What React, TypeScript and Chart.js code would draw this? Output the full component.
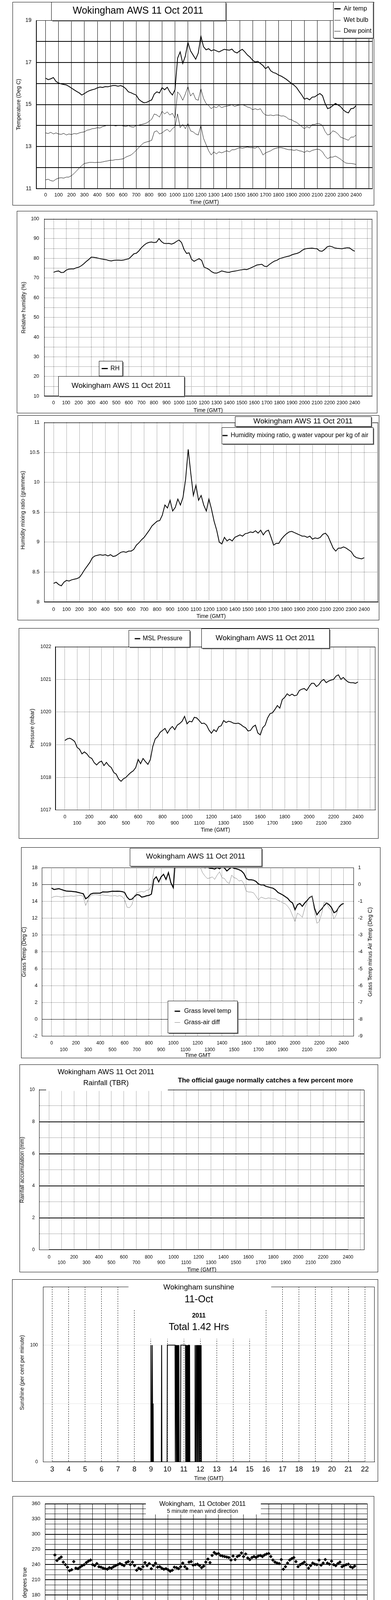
import React, { useEffect, useRef } from 'react';
import { Chart, registerables } from 'chart.js';

Chart.register(...registerables);

const FONT = "'Liberation Sans', Arial, Helvetica, sans-serif";

// ---------------- time grids & tick lists ----------------
// HHMM-style time axis (100 = 1 hour), sampled every 20 units
const T20 = Array.from({ length: 121 }, (_, i) => i * 20);
// hours, every 10 minutes
const H10 = Array.from({ length: 145 }, (_, i) => i / 6);

const HUNDREDS_2400 = [0, 100, 200, 300, 400, 500, 600, 700, 800, 900, 1000, 1100, 1200, 1300, 1400, 1500, 1600, 1700, 1800, 1900, 2000, 2100, 2200, 2300, 2400];
const HUNDREDS_2500 = [...HUNDREDS_2400, 2500];
const SUN_HOURS = [3, 4, 5, 6, 7, 8, 9, 10, 11, 12, 13, 14, 15, 16, 17, 18, 19, 20, 21, 22];
const DAY_HOURS = [0, 1, 2, 3, 4, 5, 6, 7, 8, 9, 10, 11, 12, 13, 14, 15, 16, 17, 18, 19, 20, 21, 22, 23, 24];

const TEMP_TICKS = [11, 12, 13, 14, 15, 16, 17, 18, 19];
const RH_TICKS = [10, 15, 20, 25, 30, 35, 40, 45, 50, 55, 60, 65, 70, 75, 80, 85, 90, 95, 100];
const MIX_TICKS = [8, 8.5, 9, 9.5, 10, 10.5, 11];
const PRES_TICKS = [1017, 1018, 1019, 1020, 1021, 1022];
const GRASS_TICKS = [-2, 0, 2, 4, 6, 8, 10, 12, 14, 16, 18];
const DIFF_TICKS = [-9, -8, -7, -6, -5, -4, -3, -2, -1, 0, 1];
const RAIN_TICKS = [0, 1, 2, 3, 4, 5, 6, 7, 8, 9, 10];
const SUN_TICKS = [0, 50, 100, 150];
const DIR_TICKS = [0, 10, 20, 30, 40, 50, 60, 70, 80, 90, 100, 110, 120, 130, 140, 150, 160, 170, 180, 190, 200, 210, 220, 230, 240, 250, 260, 270, 280, 290, 300, 310, 320, 330, 340, 350, 360];
const SPEED_TICKS = [0, 5, 10, 15, 20, 25, 30, 35, 40, 45, 50];

// ---------------- data ----------------
const airTemp = [
  16.25, 16.18, 16.22, 16.28, 16.1, 16.02, 15.98, 15.95, 15.93, 15.86,
  15.78, 15.7, 15.62, 15.55, 15.45, 15.52, 15.6, 15.66, 15.7, 15.73,
  15.79, 15.83, 15.81, 15.85, 15.84, 15.87, 15.9, 15.9, 15.87, 15.9,
  15.85, 15.75, 15.6, 15.56, 15.5, 15.45, 15.25, 15.15, 15.08, 15.1,
  15.16, 15.22, 15.5, 15.6, 15.55, 15.8, 15.7, 15.82, 15.6, 15.45,
  15.7, 17.2, 17.5, 16.95, 17.3, 17.95, 17.55, 17.35, 17.15, 17.45,
  18.25, 17.75, 17.6, 17.65, 17.55, 17.6, 17.55, 17.5, 17.56, 17.62,
  17.6, 17.58, 17.63, 17.5, 17.45, 17.55, 17.62, 17.5, 17.35, 17.25,
  17.1, 17.02, 17.05, 16.95, 16.85, 16.7, 16.8, 16.6, 16.52, 16.48,
  16.4, 16.35, 16.28, 16.2, 16.1, 16.0, 15.92, 15.8, 15.62, 15.45,
  15.25, 15.3, 15.22, 15.35, 15.36, 15.45, 15.52, 15.42, 15.05, 14.8,
  14.85, 14.95, 15.05, 14.98, 14.9, 14.75, 14.65, 14.6, 14.8, 14.82,
  14.95,
];
const wetBulb = [
  13.65, 13.62, 13.68, 13.6, 13.65, 13.6, 13.58, 13.63, 13.55, 13.6,
  13.57, 13.62, 13.6, 13.65, 13.68, 13.7, 13.78, 13.8, 13.85, 13.86,
  13.9, 13.88, 13.95, 13.98, 14.02, 14.0, 14.01, 13.98, 14.0, 14.01,
  13.98, 13.95, 14.0, 13.94, 13.92, 14.0, 14.02, 14.05, 14.08, 14.12,
  14.2, 14.3, 14.55, 14.5, 14.4, 14.68, 14.55, 14.65, 14.5, 14.58,
  14.35, 15.6, 15.45, 15.2, 15.5, 15.85, 15.4, 15.55, 15.25, 15.2,
  15.75, 15.3, 15.05, 14.95, 14.8, 14.9, 14.85, 14.95, 14.85, 14.9,
  14.92, 14.95, 15.0, 14.9, 14.95, 14.98, 15.0, 14.95, 14.88, 14.85,
  14.75, 14.8, 14.75, 14.8, 14.6, 14.5, 14.48, 14.5, 14.47, 14.5,
  14.5, 14.45, 14.46, 14.4, 14.3, 14.28, 14.2, 14.15, 14.05, 13.95,
  13.85, 13.95, 13.88, 14.05, 14.05, 14.1, 14.08, 14.0, 13.72, 13.55,
  13.6, 13.75, 13.7, 13.6, 13.45, 13.4, 13.35, 13.3, 13.45, 13.45,
  13.55,
];
const dewPoint = [
  11.42, 11.45, 11.38, 11.36, 11.45, 11.5, 11.52, 11.5, 11.55, 11.55,
  11.62, 11.72, 11.85, 11.98, 12.1, 12.2, 12.22, 12.25, 12.25, 12.24,
  12.25, 12.25, 12.27, 12.3, 12.32, 12.35, 12.35, 12.38, 12.38, 12.4,
  12.42, 12.5, 12.55, 12.6, 12.7, 12.82, 12.95, 13.08, 13.18, 13.22,
  13.25, 13.3, 13.7, 13.75, 13.6, 13.65, 13.75, 13.82, 13.7, 13.85,
  13.95, 14.55, 13.9, 14.05, 13.85, 14.1, 13.75, 13.7, 13.6, 13.55,
  14.0, 13.4, 13.1, 12.8, 12.6, 12.75, 12.65, 12.75, 12.7, 12.75,
  12.8, 12.75, 12.85, 12.85, 12.9, 12.95, 12.92, 12.95, 12.98, 12.95,
  12.95, 12.92, 13.0, 12.85, 12.6, 12.7, 12.75, 12.8, 12.88, 12.92,
  12.95, 12.95, 12.92, 12.88, 12.85, 12.85, 12.82, 12.85, 12.8, 12.78,
  12.72, 12.8, 12.75, 12.82, 12.85, 12.88, 12.85, 12.75, 12.55, 12.42,
  12.5, 12.5, 12.55, 12.48, 12.4, 12.3, 12.22, 12.2, 12.2, 12.18,
  12.15,
];
const relHumidity = [
  72.9, 73.4, 73.6, 72.8, 72.9, 74.0, 74.5, 74.6, 74.6, 75.2,
  75.5, 76.2, 77.2, 78.4, 79.4, 80.6, 80.5, 80.3, 80.0, 79.7,
  79.5, 79.3, 78.9, 78.7, 79.0, 79.1, 79.1, 79.0, 79.2, 79.5,
  79.8, 81.0, 82.3, 82.6, 83.8, 85.4, 86.6, 87.6, 88.1, 88.3,
  88.0, 88.2, 90.0, 88.5, 87.6, 87.5, 87.6, 87.2, 87.7, 88.6,
  89.3, 88.0, 84.5, 82.5, 82.8, 79.5, 78.5, 79.2, 79.8, 79.0,
  75.5, 75.0, 74.3, 73.2, 72.6, 72.5, 73.0, 73.6, 73.3, 73.0,
  72.9, 73.3, 73.5, 73.7, 74.0, 74.2, 74.4, 74.3, 74.8, 75.4,
  76.0, 76.6, 76.8, 77.0, 76.0, 75.8, 76.9, 77.8, 78.6, 79.0,
  79.8, 80.2, 80.6, 80.9, 81.2, 81.8, 82.2, 82.5, 83.0, 84.0,
  84.7, 85.0, 85.1, 85.2, 85.0, 84.9, 83.8, 83.6, 84.5, 85.8,
  86.2, 85.9, 85.3, 85.1, 85.0, 84.9, 85.2, 85.4, 85.3, 84.3,
  83.6,
];
const mixingRatio = [
  8.31, 8.33, 8.29, 8.27, 8.33, 8.36, 8.35, 8.37, 8.38, 8.39,
  8.41, 8.47, 8.54, 8.6, 8.66, 8.74, 8.77, 8.78, 8.79, 8.78,
  8.79, 8.77, 8.79, 8.76, 8.77, 8.8, 8.83, 8.84, 8.83, 8.85,
  8.85, 8.88, 8.95, 8.99, 9.04, 9.08, 9.14, 9.2, 9.27, 9.31,
  9.35, 9.36, 9.45, 9.62, 9.57, 9.7, 9.52, 9.58, 9.72, 9.62,
  9.75, 10.05, 10.55, 10.15, 9.78, 9.95, 9.7, 9.78, 9.62, 9.52,
  9.72, 9.55, 9.35, 9.2, 9.0, 8.97, 9.08, 9.02, 9.05, 9.02,
  9.08, 9.1, 9.12, 9.1, 9.14, 9.15, 9.17, 9.16, 9.19, 9.15,
  9.2, 9.12, 9.18, 9.2, 9.08, 8.95, 8.98, 8.98, 9.05, 9.1,
  9.14, 9.17, 9.18, 9.16, 9.14, 9.12, 9.1, 9.1, 9.08, 9.1,
  9.05, 9.07, 9.06, 9.08, 9.13, 9.15, 9.1, 9.0, 8.9, 8.85,
  8.9, 8.9, 8.92, 8.9, 8.87, 8.84, 8.77, 8.74, 8.73, 8.72,
  8.74,
];
const mslPressure = [
  1019.13, 1019.18, 1019.2, 1019.16, 1019.1, 1018.92, 1018.86, 1018.72, 1018.78, 1018.72,
  1018.62, 1018.58, 1018.45, 1018.38, 1018.46, 1018.5, 1018.36, 1018.46, 1018.36, 1018.3,
  1018.15, 1018.1, 1017.95, 1017.88, 1017.96, 1018.0, 1018.08, 1018.15, 1018.2, 1018.3,
  1018.55, 1018.42, 1018.58, 1018.48, 1018.4, 1018.55, 1018.95, 1019.18, 1019.25, 1019.38,
  1019.44, 1019.5, 1019.35, 1019.48, 1019.56, 1019.46, 1019.6, 1019.65, 1019.72, 1019.87,
  1019.64, 1019.72, 1019.7, 1019.84, 1019.82, 1019.74, 1019.65, 1019.66, 1019.6, 1019.45,
  1019.35, 1019.46, 1019.4, 1019.55, 1019.58, 1019.74, 1019.68, 1019.72, 1019.7, 1019.66,
  1019.65, 1019.66, 1019.62, 1019.56, 1019.52, 1019.42, 1019.44, 1019.55, 1019.6, 1019.36,
  1019.3, 1019.52, 1019.6, 1019.82, 1019.95, 1019.98, 1020.08, 1020.2, 1020.12, 1020.38,
  1020.45, 1020.56, 1020.5, 1020.55, 1020.5, 1020.52, 1020.66, 1020.7, 1020.72, 1020.66,
  1020.78, 1020.88, 1020.88, 1020.78, 1020.84, 1020.95, 1021.0, 1020.9, 1020.95, 1020.98,
  1021.0, 1021.1, 1021.14, 1021.0, 1021.06, 1020.98, 1020.92, 1020.9, 1020.9, 1020.88,
  1020.92,
];
const grassTemp = [
  15.57, 15.4, 15.45, 15.5, 15.4, 15.3, 15.22, 15.2, 15.18, 15.15,
  15.12, 15.05, 14.97, 14.9, 14.3, 14.5, 14.85, 14.95, 14.97, 14.96,
  14.97, 15.12, 15.1, 15.1, 15.15, 15.2, 15.18, 15.2, 15.18, 15.15,
  15.05, 14.5, 14.2, 14.25, 14.55, 14.8, 14.75, 14.5, 14.55, 14.65,
  14.7, 14.85, 16.6, 16.9, 16.3, 16.9, 17.2, 16.6, 17.4, 16.2,
  15.6, 19.5, 20.0, 20.2, 19.8, 20.5, 20.3, 19.8, 19.6, 20.2,
  19.5, 18.6, 18.1, 17.98, 18.05, 17.92, 17.9, 17.82, 18.0, 17.85,
  18.1, 17.95, 17.6, 17.85, 18.05, 17.9, 17.85, 17.75, 17.6, 17.3,
  16.7, 16.55, 16.55, 16.5, 16.35, 16.05, 15.95, 15.95, 15.78, 15.7,
  15.62, 15.55, 15.35, 15.05, 14.9, 14.75, 14.55, 14.35, 14.0, 13.8,
  13.0, 13.6, 13.75, 13.4, 13.8, 14.1, 14.45, 14.6, 13.2, 12.4,
  12.8, 13.1, 13.5, 13.8, 13.6, 13.25, 12.65, 12.8, 13.3, 13.6,
  13.75,
];
const grassAirDiff = [
  -0.78, -0.72, -0.7, -0.72, -0.75, -0.72, -0.7, -0.7, -0.68, -0.7,
  -0.68, -0.66, -0.65, -0.7, -1.25, -0.9, -0.68, -0.62, -0.6, -0.62,
  -0.64, -0.62, -0.66, -0.65, -0.68, -0.68, -0.66, -0.7, -0.66, -0.72,
  -0.9, -1.35, -1.38, -1.2, -0.65, -0.5, -0.45, -0.42, -0.45, -0.35,
  -0.32, -0.1, 0.8, 1.5, 1.3, 1.4, 1.6, 1.3, 1.5, 1.2,
  1.3, 1.8, 2.2, 2.5, 2.3, 2.4, 2.6, 2.3, 2.2, 2.5,
  1.5, 1.05, 0.7, 0.5, 0.35, 0.38, 0.45, 0.3, 0.55, 0.75,
  0.4, 0.35, 0.15, 0.05, 0.55, 0.4, 0.35, 0.2, 0.25, 0.05,
  -0.4, -0.45, -0.45, -0.5, -0.7, -0.92, -0.75, -0.8, -0.85, -0.8,
  -0.82, -0.85, -0.85, -0.95, -1.0, -1.1, -1.15, -1.3, -1.5, -1.85,
  -2.2, -1.7, -1.8, -1.95, -1.4, -1.0, -0.8, -0.7, -1.6, -2.3,
  -2.2, -1.7, -1.05, -1.1, -1.4, -1.55, -2.05, -1.8, -1.3, -1.15,
  -1.1,
];
const rainTimes = [0, 2400];
const rainAccum = [0, 0];

// sunshine, minute of day / per cent of the minute
const sunMinutes = [180, 539, 540, 541, 542, 543, 544, 545, 546, 547, 548, 549, 578, 579, 580, 599, 600, 628,
  629, 630, 631, 632, 633, 634, 635, 636, 637, 638, 639, 640, 641, 642, 643, 648, 649,
  666, 667, 668, 669, 670, 671, 672, 673, 674, 675, 676, 677, 678, 679, 680, 681, 682,
  700, 701, 702, 704, 705, 706, 707, 708, 709, 710, 711, 712, 713, 714, 715, 716, 717, 718, 719, 720, 721, 722, 723, 724, 1320];
const sunPercent = [0, 0, 100, 50, 0, 50, 0, 100, 50, 0, 50, 0, 0, 100, 0, 0, 100, 100,
  0, 100, 50, 100, 0, 100, 0, 50, 100, 0, 100, 50, 0, 100, 0, 0, 100,
  100, 0, 100, 50, 100, 0, 100, 0, 100, 50, 100, 0, 100, 100, 0, 100, 0,
  0, 100, 0, 0, 100, 0, 100, 50, 100, 0, 100, 0, 100, 50, 100, 0, 100, 0, 100, 50, 100, 0, 100, 0, 0];

// 10-minute wind direction (degrees), hours 0..23
const windDir = [
  259, 248, 252, 255, 245, 240,
  235, 228, 230, 246, 233, 232,
  235, 238, 240, 244, 247, 249,
  240, 238, 242, 236, 235, 233,
  232, 231, 234, 233, 236, 238,
  240, 242, 240, 238, 244, 246,
  240, 245, 238, 229, 233, 231,
  236, 244, 238, 242, 232, 238,
  243, 235, 236, 233, 231, 232,
  230, 227, 229, 235, 234, 232,
  236, 243, 236, 232, 245, 246,
  239, 240, 241, 238, 234, 237,
  245, 251, 244, 258, 264, 261,
  262, 258, 257, 256, 255, 254,
  249, 257, 250, 256, 258, 263,
  256, 261, 253, 250, 254, 256,
  254, 257, 258, 256, 259, 261,
  262, 256, 249, 245, 243, 242,
  250, 231, 236, 243, 249, 252,
  254, 246, 236, 240, 242, 245,
  240, 233, 238, 243, 241, 240,
  249, 239, 243, 250, 243, 241,
  247, 240, 238, 242, 245, 236,
  238, 240, 241, 236, 234, 237,
];
// 10-minute mean speed and max gust (knots), hours 0..24
const windMean = [
  10.8, 10.6, 11.0, 10.2, 12.8, 11.5,
  12.5, 9.8, 9.4, 9.6, 8.7, 9.5,
  10.4, 9.3, 9.6, 8.2, 8.8, 9.3,
  9.1, 10.0, 9.8, 9.7, 9.2, 9.0,
  9.3, 8.6, 8.4, 8.3, 9.2, 8.5,
  8.3, 9.0, 9.5, 7.6, 8.2, 8.1,
  7.5, 7.0, 7.8, 7.4, 6.8, 7.9,
  6.8, 7.6, 7.9, 7.1, 6.9, 7.2,
  6.6, 6.4, 6.6, 6.2, 6.0, 7.5,
  8.8, 9.3, 9.6, 9.9, 10.2, 10.4,
  8.6, 9.2, 9.8, 10.0, 10.6, 11.0,
  10.4, 10.6, 9.6, 9.4, 9.9, 10.8,
  8.4, 9.6, 10.3, 8.2, 9.8, 10.9,
  11.4, 7.9, 9.2, 10.3, 10.6, 9.2,
  9.8, 9.5, 8.7, 9.8, 10.2, 7.6,
  9.6, 9.8, 9.6, 10.5, 8.9, 9.1,
  8.6, 7.0, 8.2, 8.9, 9.6, 10.0,
  10.4, 8.0, 6.6, 6.8, 6.5, 6.2,
  6.0, 6.6, 6.9, 7.4, 7.8, 7.2,
  5.8, 6.3, 6.9, 5.4, 4.8, 5.9,
  6.2, 6.4, 6.5, 6.0, 6.3, 5.8,
  7.8, 7.0, 7.4, 7.0, 6.8, 7.2,
  7.5, 8.0, 8.2, 8.3, 8.4, 8.5,
  7.4, 6.5, 6.7, 6.9, 6.2, 5.9,
  6.5,
];
const windGust = [
  20.5, 13.5, 22.0, 16.5, 21.8, 14.0,
  21.5, 15.5, 17.5, 19.0, 13.0, 16.5,
  20.2, 14.0, 17.8, 13.5, 16.0, 20.0,
  15.0, 14.2, 16.5, 14.8, 17.2, 13.0,
  14.5, 15.8, 12.8, 13.5, 16.8, 11.5,
  15.2, 13.0, 14.8, 12.0, 15.5, 11.2,
  14.5, 10.5, 13.0, 15.8, 12.5, 9.5,
  14.8, 11.5, 12.0, 9.0, 13.5, 10.0,
  12.8, 9.2, 11.5, 8.0, 12.0, 10.0,
  16.8, 13.0, 17.0, 12.5, 15.0, 18.0,
  14.0, 17.5, 15.2, 19.8, 16.0, 17.0,
  15.0, 17.5, 16.0, 14.2, 17.8, 15.0,
  13.5, 18.5, 15.2, 16.5, 21.0, 16.0,
  22.0, 14.5, 18.8, 17.5, 15.0, 20.5,
  16.8, 14.0, 18.5, 15.0, 13.5, 17.0,
  14.8, 16.0, 20.5, 15.8, 17.2, 14.5,
  18.5, 19.0, 14.0, 16.2, 18.8, 17.5,
  13.5, 10.5, 13.0, 11.0, 10.0, 12.5,
  14.8, 9.5, 11.8, 8.0, 12.0, 9.2,
  14.8, 8.5, 10.0, 11.5, 9.0, 12.8,
  13.2, 10.0, 12.5, 9.5, 12.8, 11.0,
  14.5, 12.0, 12.8, 10.5, 11.5, 13.0,
  13.8, 11.2, 12.5, 10.8, 11.5, 12.2,
  10.0, 11.8, 9.0, 10.5, 8.5, 11.0,
  10.0,
];

// ---------------- helpers ----------------
type GridStyle = [string, number, number[]];
const SOLID: GridStyle = ['#000', 1, []];
const DOT: GridStyle = ['#000', 1, [1, 2]];
const NONE: GridStyle = ['rgba(0,0,0,0)', 0, []];

type Rect = { x: number; y: number; w: number; h: number };
type Plot = { l: number; t: number; r: number; b: number };

interface AxisSpec {
  min: number; max: number; ticks: number[];
  label: (v: number) => string | string[];
  grid: (v: number) => GridStyle;
  pad: number; font?: number; lh?: number; bold?: boolean;
  position?: string; gridOff?: boolean;
}

function axis(s: AxisSpec, horizontal: boolean, size: number): any {
  return {
    type: 'linear',
    position: s.position ?? (horizontal ? 'bottom' : 'left'),
    min: s.min,
    max: s.max,
    bounds: 'data',
    afterBuildTicks: (sc: any) => { sc.ticks = s.ticks.map((v) => ({ value: v })); },
    afterFit: (sc: any) => { if (horizontal) sc.height = size; else sc.width = size; },
    ticks: {
      autoSkip: false, maxRotation: 0, minRotation: 0, padding: s.pad, color: '#000',
      font: { family: FONT, size: s.font ?? 13, lineHeight: s.lh ?? 1.2, weight: s.bold ? 'bold' : 'normal' },
      callback: (v: any) => s.label(Number(v)),
    },
    grid: {
      display: !s.gridOff, drawTicks: false,
      color: (c: any) => (c.tick ? s.grid(c.tick.value)[0] : 'rgba(0,0,0,0)'),
      lineWidth: (c: any) => (c.tick ? s.grid(c.tick.value)[1] : 0),
    },
    border: { display: true, color: '#000', width: 1, dash: (c: any) => (c.tick ? s.grid(c.tick.value)[2] : []) },
  };
}

const pts = (xs: number[], ys: number[]) => ys.map((y, i) => ({ x: xs[i], y }));
const lineDs = (data: any[], color: string, width: number, yAxisID = 'y') => ({
  data, borderColor: color, backgroundColor: color, borderWidth: width,
  pointRadius: 0, fill: false, tension: 0, yAxisID,
});
const twoRow = (v: number) => (v > 2400 ? '' : v % 200 === 0 ? [String(v)] : ['', String(v)]);
const hh = (v: number) => (v < 10 ? '0' : '') + v + ':00';

type Item =
  | { k: 'box'; x: number; y: number; w: number; h: number; shadow?: boolean }
  | { k: 'white'; x: number; y: number; w: number; h: number }
  | { k: 'text'; t: string; x: number; y: number; size: number; bold?: boolean; align?: CanvasTextAlign }
  | { k: 'vtext'; t: string; x: number; y: number; size: number }
  | { k: 'line'; x1: number; x2: number; y: number; w: number; color: string }
  | { k: 'diamond'; x: number; y: number; r: number };

interface PanelDef {
  outer: Rect; plot: Plot; x: AxisSpec; y: AxisSpec; y2?: AxisSpec;
  datasets: any[]; items: Item[];
}

function decoPlugin(outer: Rect, items: Item[]) {
  const X = (v: number) => v - outer.x;
  const Y = (v: number) => v - outer.y;
  return {
    id: 'deco',
    beforeDatasetsDraw(chart: any) {
      const { ctx, chartArea: a } = chart;
      ctx.save();
      ctx.setLineDash([]);
      ctx.strokeStyle = '#000';
      ctx.lineWidth = 1;
      const l = Math.round(a.left) + 0.5, t = Math.round(a.top) + 0.5;
      const r = Math.round(a.right) - 0.5, b = Math.round(a.bottom) - 0.5;
      ctx.strokeRect(l, t, r - l, b - t);
      ctx.restore();
    },
    afterDraw(chart: any) {
      const ctx = chart.ctx as CanvasRenderingContext2D;
      ctx.save();
      ctx.setLineDash([]);
      ctx.strokeStyle = '#000';
      ctx.lineWidth = 1;
      ctx.strokeRect(0.5, 0.5, outer.w - 1, outer.h - 1);
      for (const it of items) {
        if (it.k === 'white') {
          ctx.fillStyle = '#fff';
          ctx.fillRect(X(it.x), Y(it.y), it.w, it.h);
        } else if (it.k === 'box') {
          const bx = Math.round(X(it.x)), by = Math.round(Y(it.y));
          const bw = Math.round(it.w), bh = Math.round(it.h);
          if (it.shadow) { ctx.fillStyle = '#7a7a7a'; ctx.fillRect(bx + 3, by + 3, bw, bh); }
          ctx.fillStyle = '#fff';
          ctx.fillRect(bx, by, bw, bh);
          ctx.strokeStyle = '#000';
          ctx.lineWidth = 1;
          ctx.strokeRect(bx + 0.5, by + 0.5, bw, bh);
        } else if (it.k === 'text') {
          ctx.fillStyle = '#000';
          ctx.font = `${it.bold ? 'bold ' : ''}${it.size}px ${FONT}`;
          ctx.textAlign = it.align ?? 'center';
          ctx.textBaseline = 'middle';
          ctx.fillText(it.t, X(it.x), Y(it.y));
        } else if (it.k === 'vtext') {
          ctx.save();
          ctx.fillStyle = '#000';
          ctx.font = `${it.size}px ${FONT}`;
          ctx.textAlign = 'center';
          ctx.textBaseline = 'middle';
          ctx.translate(X(it.x), Y(it.y));
          ctx.rotate(-Math.PI / 2);
          ctx.fillText(it.t, 0, 0);
          ctx.restore();
        } else if (it.k === 'line') {
          ctx.strokeStyle = it.color;
          ctx.lineWidth = it.w;
          ctx.beginPath();
          ctx.moveTo(X(it.x1), Y(it.y));
          ctx.lineTo(X(it.x2), Y(it.y));
          ctx.stroke();
        } else if (it.k === 'diamond') {
          ctx.strokeStyle = '#000';
          ctx.lineWidth = 1;
          ctx.beginPath();
          ctx.moveTo(X(it.x), Y(it.y) - it.r);
          ctx.lineTo(X(it.x) + it.r, Y(it.y));
          ctx.lineTo(X(it.x), Y(it.y) + it.r);
          ctx.lineTo(X(it.x) - it.r, Y(it.y));
          ctx.closePath();
          ctx.stroke();
        }
      }
      ctx.restore();
    },
  };
}

function buildConfig(d: PanelDef): any {
  const { outer, plot } = d;
  const yW = plot.l - outer.x;
  const xH = outer.y + outer.h - plot.b;
  const rW = d.y2 ? outer.x + outer.w - plot.r : 0;
  const scales: any = { x: axis(d.x, true, xH), y: axis(d.y, false, yW) };
  if (d.y2) scales.y2 = axis({ ...d.y2, position: 'right' }, false, rW);
  return {
    type: 'line',
    data: { datasets: d.datasets },
    options: {
      animation: false, responsive: false, maintainAspectRatio: false, events: [],
      layout: { padding: { top: plot.t - outer.y, left: 0, bottom: 0, right: outer.x + outer.w - plot.r - rW } },
      plugins: { legend: { display: false }, tooltip: { enabled: false }, title: { display: false } },
      elements: { point: { radius: 0 }, line: { tension: 0 } },
      scales,
    },
    plugins: [decoPlugin(outer, d.items)],
  };
}

const TITLE = 'Wokingham AWS 11 Oct 2011';

// ---------------- panels ----------------
const panels: PanelDef[] = [
  // 1. temperatures
  {
    outer: { x: 32, y: 5, w: 925, h: 521 }, plot: { l: 92.5, t: 52, r: 952.5, b: 483 },
    x: { min: -73, max: 2526, ticks: HUNDREDS_2500, label: (v) => (v <= 2400 ? String(v) : ''), grid: () => SOLID, pad: 9 },
    y: { min: 11, max: 19, ticks: TEMP_TICKS, label: (v) => (v % 2 === 1 ? String(v) : ''), grid: (v) => (v > 11 && v < 19 ? ['#000', 2, []] : SOLID), pad: 12, font: 14, lh: 1 },
    datasets: [
      lineDs(pts(T20, dewPoint), '#000', 1),
      lineDs(pts(T20, wetBulb), '#000', 1),
      lineDs(pts(T20, airTemp), '#000', 2),
    ],
    items: [
      { k: 'box', x: 131, y: 5, w: 446, h: 47, shadow: true },
      { k: 'text', t: TITLE, x: 353, y: 28.5, size: 25 },
      { k: 'box', x: 852, y: 5, w: 102, h: 92, shadow: true },
      { k: 'line', x1: 855, x2: 871, y: 22.5, w: 3, color: '#000' },
      { k: 'text', t: 'Air temp', x: 879, y: 22.5, size: 16, align: 'left' },
      { k: 'line', x1: 855, x2: 871, y: 52, w: 1, color: '#000' },
      { k: 'text', t: 'Wet bulb', x: 879, y: 52, size: 16, align: 'left' },
      { k: 'line', x1: 855, x2: 871, y: 80, w: 1, color: '#000' },
      { k: 'text', t: 'Dew point', x: 879, y: 80, size: 16, align: 'left' },
      { k: 'vtext', t: 'Temperature (Deg C)', x: 48, y: 267.5, size: 14 },
      { k: 'text', t: 'Time (GMT)', x: 522.5, y: 518, size: 14 },
    ],
  },
  // 2. relative humidity
  {
    outer: { x: 43, y: 540, w: 922, h: 518 }, plot: { l: 113, t: 560.5, r: 952, b: 1014.4 },
    x: { min: -75, max: 2540, ticks: HUNDREDS_2500, label: (v) => (v <= 2400 ? String(v) : ''), grid: () => DOT, pad: 9.8, font: 12.5 },
    y: { min: 10, max: 100, ticks: RH_TICKS, label: (v) => (v % 10 === 0 ? String(v) : ''), grid: () => DOT, pad: 13, font: 12.5, lh: 1 },
    datasets: [lineDs(pts(T20, relHumidity), '#000', 2)],
    items: [
      { k: 'box', x: 149, y: 962.5, w: 322, h: 50.5, shadow: true },
      { k: 'text', t: TITLE, x: 310, y: 988, size: 19 },
      { k: 'box', x: 253, y: 924, w: 60, h: 38, shadow: true },
      { k: 'line', x1: 260, x2: 275.6, y: 943.5, w: 3, color: '#000' },
      { k: 'text', t: 'RH', x: 282.6, y: 943.5, size: 16, align: 'left' },
      { k: 'vtext', t: 'Relative humidity (%)', x: 61, y: 787.5, size: 14 },
      { k: 'text', t: 'Time (GMT)', x: 532.5, y: 1051, size: 14 },
    ],
  },
  // 3. mixing ratio
  {
    outer: { x: 45, y: 1063, w: 925, h: 525 }, plot: { l: 113, t: 1071, r: 967, b: 1541 },
    x: { min: -72.5, max: 2507, ticks: HUNDREDS_2400, label: (v) => String(v), grid: () => DOT, pad: 11.2 },
    y: { min: 8, max: 11, ticks: MIX_TICKS, label: (v) => String(v), grid: () => DOT, pad: 12, lh: 1 },
    datasets: [lineDs(pts(T20, mixingRatio), '#000', 2)],
    items: [
      { k: 'box', x: 601, y: 1066, w: 348, h: 25, shadow: true },
      { k: 'text', t: TITLE, x: 775, y: 1078.5, size: 19 },
      { k: 'box', x: 567, y: 1094, w: 387, h: 42, shadow: true },
      { k: 'line', x1: 569, x2: 582, y: 1115, w: 3, color: '#000' },
      { k: 'text', t: 'Humidity mixing ratio, g water vapour per kg of air', x: 590, y: 1115, size: 16, align: 'left' },
      { k: 'vtext', t: 'Humidity mixing ratio (grammes)', x: 59, y: 1306, size: 14 },
      { k: 'text', t: 'Time (GMT)', x: 540, y: 1578, size: 14 },
    ],
  },
  // 4. pressure
  {
    outer: { x: 48, y: 1608, w: 920, h: 539 }, plot: { l: 141.6, t: 1655.7, r: 960, b: 2073.7 },
    x: { min: -78, max: 2542.5, ticks: HUNDREDS_2500, label: twoRow, grid: () => DOT, pad: 10.5, font: 12.5, lh: 1.25 },
    y: { min: 1017, max: 1022, ticks: PRES_TICKS, label: (v) => String(v), grid: () => DOT, pad: 10.6, font: 12.5, lh: 1 },
    datasets: [lineDs(pts(T20, mslPressure), '#000', 2)],
    items: [
      { k: 'box', x: 328.6, y: 1612.5, w: 156.4, h: 43.2, shadow: true },
      { k: 'line', x1: 344.5, x2: 358.6, y: 1635, w: 3, color: '#000' },
      { k: 'text', t: 'MSL Pressure', x: 365, y: 1635, size: 16, align: 'left' },
      { k: 'box', x: 515, y: 1609, w: 327, h: 50, shadow: true },
      { k: 'text', t: TITLE, x: 678.5, y: 1634, size: 19 },
      { k: 'vtext', t: 'Pressure (mbar)', x: 83, y: 1864.7, size: 14 },
      { k: 'text', t: 'Time (GMT)', x: 551, y: 2125.6, size: 14 },
    ],
  },
  // 5. grass temperature
  {
    outer: { x: 54, y: 2169, w: 919, h: 540 }, plot: { l: 107, t: 2221, r: 904.7, b: 2652.7 },
    x: { min: -80.3, max: 2482.6, ticks: HUNDREDS_2400, label: twoRow, grid: () => DOT, pad: 10, font: 12, lh: 1.37 },
    y: { min: -2, max: 18, ticks: GRASS_TICKS, label: (v) => String(v), grid: (v) => (v === 0 || v === 16 ? SOLID : DOT), pad: 11, font: 13, lh: 1 },
    y2: { min: -9, max: 1, ticks: DIFF_TICKS, label: (v) => String(v), grid: () => NONE, pad: 11, font: 13, lh: 1, gridOff: true },
    datasets: [
      lineDs(pts(T20, grassAirDiff), '#808080', 1, 'y2'),
      lineDs(pts(T20, grassTemp), '#000', 2.5),
    ],
    items: [
      { k: 'box', x: 332, y: 2170.5, w: 337, h: 45.5, shadow: true },
      { k: 'text', t: TITLE, x: 500.5, y: 2193, size: 19 },
      { k: 'box', x: 429, y: 2562, w: 178, h: 82, shadow: true },
      { k: 'line', x1: 446.6, x2: 460.6, y: 2588.75, w: 3, color: '#000' },
      { k: 'text', t: 'Grass level temp', x: 471, y: 2588.75, size: 16, align: 'left' },
      { k: 'line', x1: 446.6, x2: 460.6, y: 2617.5, w: 1, color: '#808080' },
      { k: 'text', t: 'Grass-air diff', x: 471, y: 2617.5, size: 16, align: 'left' },
      { k: 'vtext', t: 'Grass Temp (Deg C)', x: 62, y: 2437, size: 14 },
      { k: 'vtext', t: 'Grass Temp minus Air Temp (Deg C)', x: 947, y: 2437, size: 14 },
      { k: 'text', t: 'Time GMT', x: 506, y: 2702, size: 14 },
    ],
  },
  // 6. rainfall
  {
    outer: { x: 50, y: 2725, w: 917, h: 532 }, plot: { l: 100, t: 2789.6, r: 931.5, b: 3199.7 },
    x: { min: -80.7, max: 2530, ticks: HUNDREDS_2500, label: twoRow, grid: () => DOT, pad: 11.6, font: 12, lh: 1.17 },
    y: { min: 0, max: 10, ticks: RAIN_TICKS, label: (v) => (v % 2 === 0 ? String(v) : ''), grid: (v) => (v % 2 === 0 && v > 0 && v < 10 ? ['#000', 2, []] : DOT), pad: 11, font: 12, lh: 1 },
    datasets: [lineDs(pts(rainTimes, rainAccum), '#000', 3)],
    items: [
      { k: 'white', x: 118, y: 2786, w: 311, h: 7 },
      { k: 'text', t: TITLE, x: 271, y: 2745, size: 18.5 },
      { k: 'text', t: 'Rainfall (TBR)', x: 271, y: 2773, size: 18.5 },
      { k: 'text', t: 'The official gauge normally catches a few percent more', x: 679, y: 2766, size: 17, bold: true },
      { k: 'vtext', t: 'Rainfall accumulation (mm)', x: 57, y: 2995, size: 14 },
      { k: 'text', t: 'Time (GMT)', x: 516, y: 3251, size: 14 },
    ],
  },
  // 7. sunshine
  {
    outer: { x: 31, y: 3275, w: 936, h: 518 }, plot: { l: 110, t: 3286, r: 958, b: 3742.5 },
    x: { min: 2.444, max: 22.59, ticks: SUN_HOURS, label: (v) => String(v), grid: () => ['#000', 1, [3, 3]], pad: 8.8, font: 18 },
    y: { min: 0, max: 150, ticks: SUN_TICKS, label: (v) => (v === 0 || v === 100 ? String(v) : ''), grid: (v) => (v === 50 || v === 100 ? ['#aaa', 1, [1, 2]] : NONE), pad: 13, font: 12, lh: 1 },
    datasets: [lineDs(pts(sunMinutes.map((m) => m / 60), sunPercent), '#000', 2.2)],
    items: [
      { k: 'white', x: 328.6, y: 3283, w: 365, h: 68.5 },
      { k: 'white', x: 348, y: 3351, w: 330, h: 76.6 },
      { k: 'text', t: 'Wokingham sunshine', x: 508.5, y: 3296, size: 19 },
      { k: 'text', t: '11-Oct', x: 508.5, y: 3327, size: 25 },
      { k: 'text', t: '2011', x: 508.5, y: 3369, size: 16, bold: true },
      { k: 'text', t: 'Total 1.42 Hrs', x: 508.5, y: 3398, size: 25 },
      { k: 'vtext', t: 'Sunshine (per cent per minute)', x: 57, y: 3514, size: 14 },
      { k: 'text', t: 'Time (GMT)', x: 534, y: 3785, size: 14 },
    ],
  },
  // 8. wind direction
  {
    outer: { x: 32, y: 3830, w: 925, h: 534 }, plot: { l: 115, t: 3849.7, r: 940, b: 4317 },
    x: { min: -0.79, max: 24.86, ticks: DAY_HOURS, label: (v) => String(v), grid: () => SOLID, pad: 8.2 },
    y: { min: 0, max: 360, ticks: DIR_TICKS, label: (v) => (v % 30 === 0 ? String(v) : ''), grid: (v) => (v % 30 === 0 && v > 0 && v < 360 ? ['#000', 2, []] : SOLID), pad: 12, lh: 1 },
    datasets: [{
      data: pts(H10, windDir), showLine: false, pointStyle: 'rectRot', pointRadius: 4.5,
      pointBackgroundColor: '#000', pointBorderColor: '#000', pointBorderWidth: 0, borderColor: '#000', yAxisID: 'y',
    }],
    items: [
      { k: 'white', x: 373, y: 3841, w: 294, h: 36 },
      { k: 'text', t: 'Wokingham,  11 October 2011', x: 518, y: 3850, size: 16.5 },
      { k: 'text', t: '5 minute mean wind direction', x: 518, y: 3869, size: 14 },
      { k: 'vtext', t: 'Direction, degrees true', x: 64, y: 4083, size: 14 },
      { k: 'text', t: 'Time (GMT)', x: 527.5, y: 4350.5, size: 14 },
    ],
  },
  // 9. wind speed
  {
    outer: { x: 32, y: 4372, w: 928, h: 517 }, plot: { l: 90.6, t: 4416, r: 941, b: 4813.6 },
    x: { min: -0.73, max: 24.98, ticks: DAY_HOURS, label: (v) => (v >= 24 ? '' : v % 2 === 0 ? [hh(v)] : ['', hh(v)]), grid: () => DOT, pad: 10, font: 12, lh: 1.37 },
    y: { min: 0, max: 50, ticks: SPEED_TICKS, label: (v) => (v % 10 === 0 ? String(v) : ''), grid: () => DOT, pad: 12, lh: 1 },
    datasets: [
      lineDs(pts(H10, windGust), '#555', 1),
      lineDs(pts(H10, windMean), '#000', 2.5),
    ],
    items: [
      { k: 'white', x: 90, y: 4413, w: 347, h: 5 },
      { k: 'text', t: 'Wokingham,  11 October 2011', x: 265, y: 4395, size: 18.6 },
      { k: 'text', t: 'Wind speed, 10 min mean / max gust', x: 576, y: 4384, size: 14 },
      { k: 'text', t: 'Speeds below 4 kt shown at x10 scale', x: 576, y: 4401.5, size: 14 },
      { k: 'box', x: 730.5, y: 4378, w: 224.5, h: 26, shadow: true },
      { k: 'line', x1: 763.7, x2: 775.2, y: 4392, w: 3, color: '#000' },
      { k: 'text', t: 'Speed x 1', x: 783, y: 4392, size: 11.5, align: 'left' },
      { k: 'diamond', x: 856, y: 4392, r: 4 },
      { k: 'text', t: 'Speed / 10', x: 869, y: 4392, size: 11.5, align: 'left' },
      { k: 'text', t: '0', x: 954, y: 4814, size: 11, bold: true },
      { k: 'vtext', t: 'Speed (knots)', x: 46, y: 4615, size: 14 },
      { k: 'text', t: 'Time (GMT)', x: 516, y: 4866, size: 14 },
    ],
  },
];

function Panel({ def }: { def: PanelDef }) {
  const ref = useRef<HTMLCanvasElement>(null);
  useEffect(() => {
    if (!ref.current) return;
    const chart = new Chart(ref.current, buildConfig(def));
    return () => chart.destroy();
  }, [def]);
  const { outer } = def;
  return (
    <canvas
      ref={ref}
      width={outer.w}
      height={outer.h}
      style={{ position: 'absolute', left: outer.x, top: outer.y, width: outer.w, height: outer.h }}
    />
  );
}

export default function App() {
  return (
    <div style={{ position: 'absolute', left: 0, top: 0, width: 1000, height: 5000, background: '#fff' }}>
      {panels.map((p, i) => (
        <Panel key={i} def={p} />
      ))}
    </div>
  );
}
